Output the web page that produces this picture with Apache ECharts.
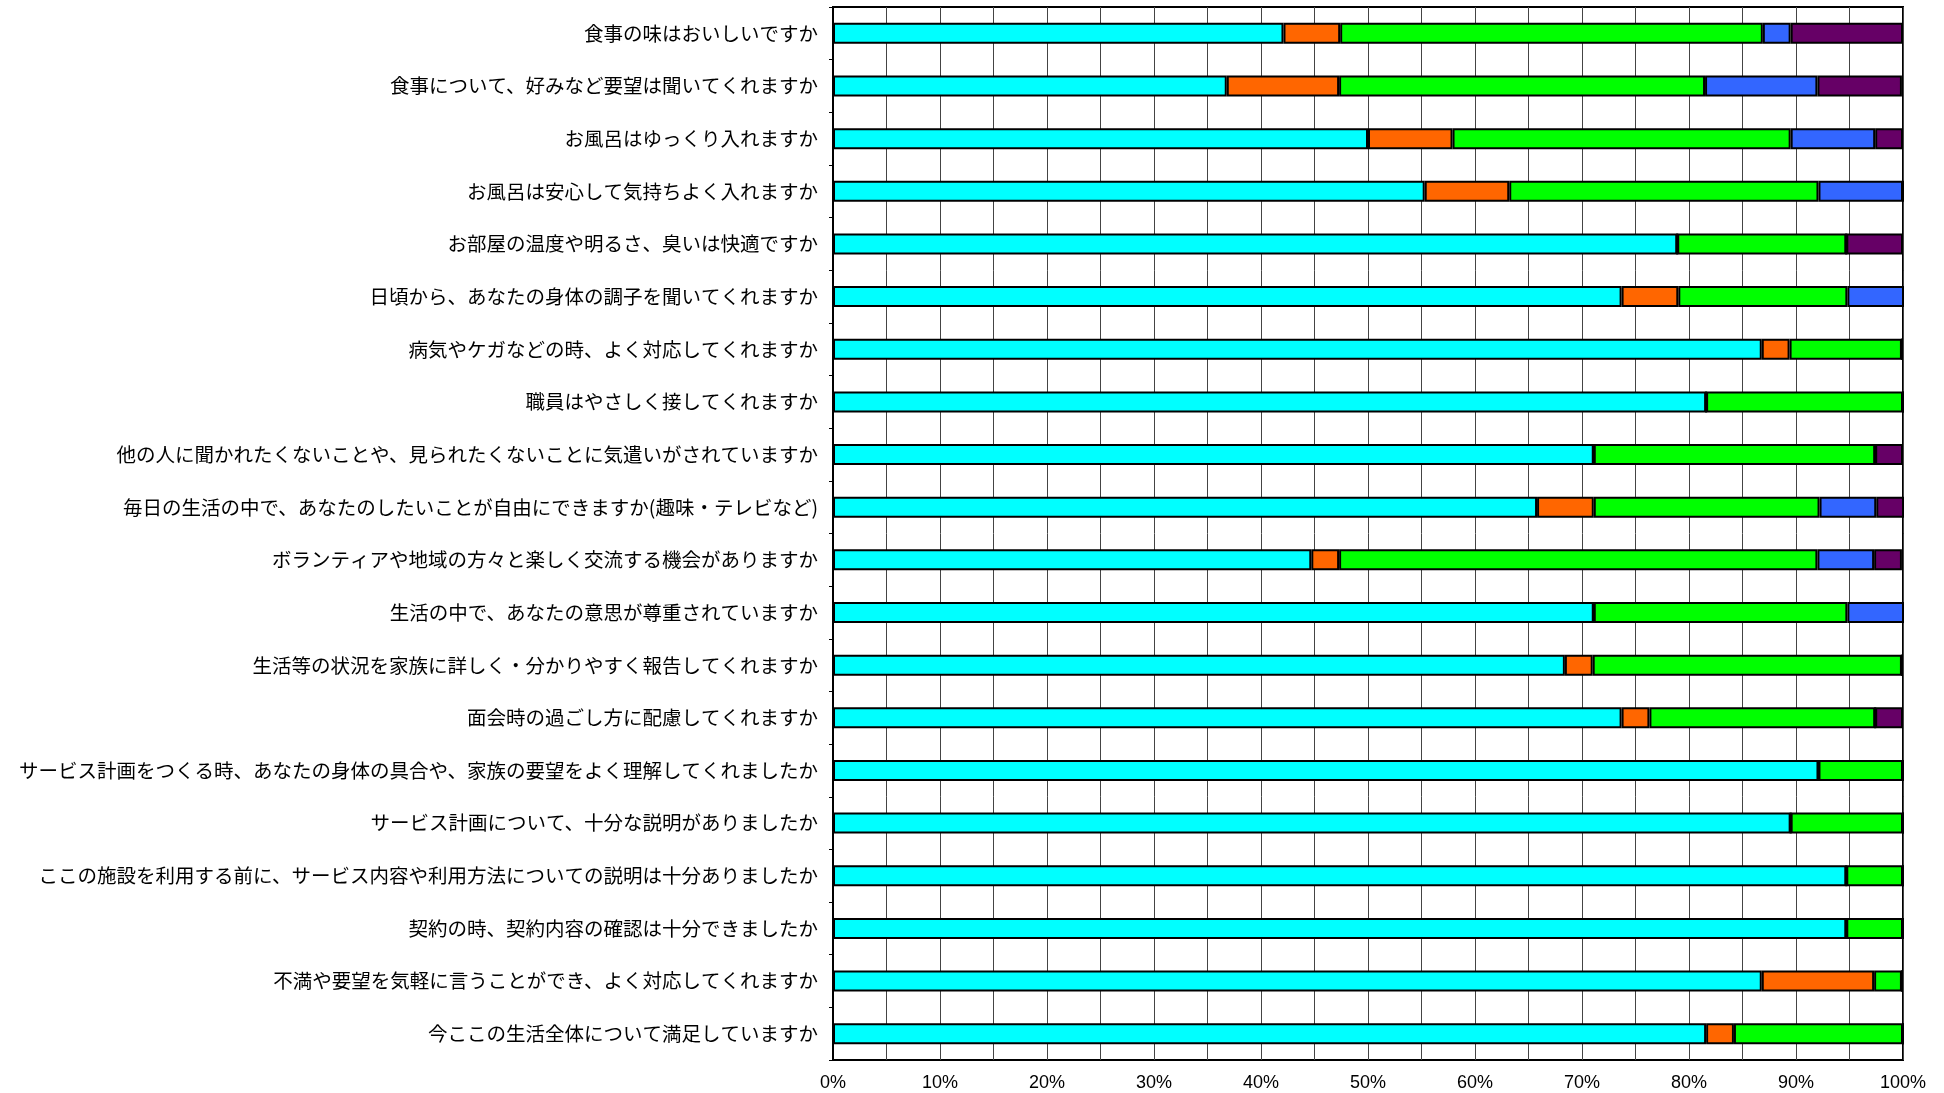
<!DOCTYPE html>
<html>
<head>
<meta charset="utf-8">
<script src="https://cdn.jsdelivr.net/npm/echarts@6/dist/echarts.min.js"></script>
<style>
  html, body { margin: 0; padding: 0; background: #fff; }
  #chart { width: 1944px; height: 1093px; }
</style>
</head>
<body>
<div id="chart"></div>
<script>
const categories = [
  '食事の味はおいしいですか',
  '食事について、好みなど要望は聞いてくれますか',
  'お風呂はゆっくり入れますか',
  'お風呂は安心して気持ちよく入れますか',
  'お部屋の温度や明るさ、臭いは快適ですか',
  '日頃から、あなたの身体の調子を聞いてくれますか',
  '病気やケガなどの時、よく対応してくれますか',
  '職員はやさしく接してくれますか',
  '他の人に聞かれたくないことや、見られたくないことに気遣いがされていますか',
  '毎日の生活の中で、あなたのしたいことが自由にできますか(趣味・テレビなど)',
  'ボランティアや地域の方々と楽しく交流する機会がありますか',
  '生活の中で、あなたの意思が尊重されていますか',
  '生活等の状況を家族に詳しく・分かりやすく報告してくれますか',
  '面会時の過ごし方に配慮してくれますか',
  'サービス計画をつくる時、あなたの身体の具合や、家族の要望をよく理解してくれましたか',
  'サービス計画について、十分な説明がありましたか',
  'ここの施設を利用する前に、サービス内容や利用方法についての説明は十分ありましたか',
  '契約の時、契約内容の確認は十分できましたか',
  '不満や要望を気軽に言うことができ、よく対応してくれますか',
  '今ここの生活全体について満足していますか'
]

// percentages per answer, one value per question (top to bottom)
const cyanValues   = [42.1, 36.8, 50.0, 55.3, 78.9, 73.7, 86.8, 81.6, 71.1, 65.8, 44.7, 71.1, 68.4, 73.7, 92.1, 89.5, 94.7, 94.7, 86.8, 81.6]
const orangeValues = [5.3, 10.5, 7.9, 7.9, 0, 5.3, 2.6, 0, 0, 5.3, 2.6, 0, 2.6, 2.6, 0, 0, 0, 0, 10.5, 2.6]
const greenValues  = [39.5, 34.2, 31.6, 28.9, 15.8, 15.8, 10.5, 18.4, 26.3, 21.1, 44.7, 23.7, 28.9, 21.1, 7.9, 10.5, 5.3, 5.3, 2.6, 15.8]
const blueValues   = [2.6, 10.5, 7.9, 7.9, 0, 5.3, 0, 0, 0, 5.3, 5.3, 5.3, 0, 0, 0, 0, 0, 0, 0, 0]
const purpleValues = [10.5, 7.9, 2.6, 0, 5.3, 0, 0, 0, 2.6, 2.6, 2.6, 0, 0, 2.6, 0, 0, 0, 0, 0, 0]

const xTicks = [0, 10, 20, 30, 40, 50, 60, 70, 80, 90, 100]

const seriesList = [
  { name : 'はい', data : cyanValues, color : '#00ffff' },
  { name : 'いいえ', data : orangeValues, color : '#ff6600' },
  { name : 'どちらともいえない', data : greenValues, color : '#00ff00' },
  { name : 'わからない', data : blueValues, color : '#3366ff' },
  { name : '無回答', data : purpleValues, color : '#660066' }
]

const chart = echarts.init( document.getElementById( 'chart' ) )

chart.setOption( {
  animation : false,
  grid : {
    left : 833,
    right : 41,
    top : 7,
    bottom : 33,
    outerBoundsMode : 'none',
    containLabel : false,
    show : true,
    borderColor : '#000',
    borderWidth : 2,
    backgroundColor : '#fff'
  },
  xAxis : {
    type : 'value',
    min : 0,
    max : 100,
    interval : 5,
    axisLine : { show : false },
    axisTick : { show : false },
    splitLine : { show : true, lineStyle : { color : '#444', width : 1 } },
    axisLabel : {
      fontFamily : 'Liberation Sans',
      fontSize : 18,
      color : '#000',
      margin : 14,
      formatter : v => xTicks.includes( v ) ? v + '%' : ''
    }
  },
  yAxis : {
    type : 'category',
    inverse : true,
    data : categories,
    axisLine : { show : true, lineStyle : { color : '#000', width : 2 } },
    axisTick : { show : true, length : 4, lineStyle : { color : '#000' } },
    axisLabel : {
      fontFamily : 'Noto Sans CJK JP',
      fontSize : 19.5,
      color : '#000',
      margin : 15
    }
  },
  series : seriesList.map( s => ( {
    name : s.name,
    type : 'bar',
    stack : 'total',
    barWidth : 21,
    data : s.data,
    itemStyle : {
      color : s.color,
      borderColor : '#000',
      borderWidth : 2
    }
  } ) )
} )
</script>
</body>
</html>
